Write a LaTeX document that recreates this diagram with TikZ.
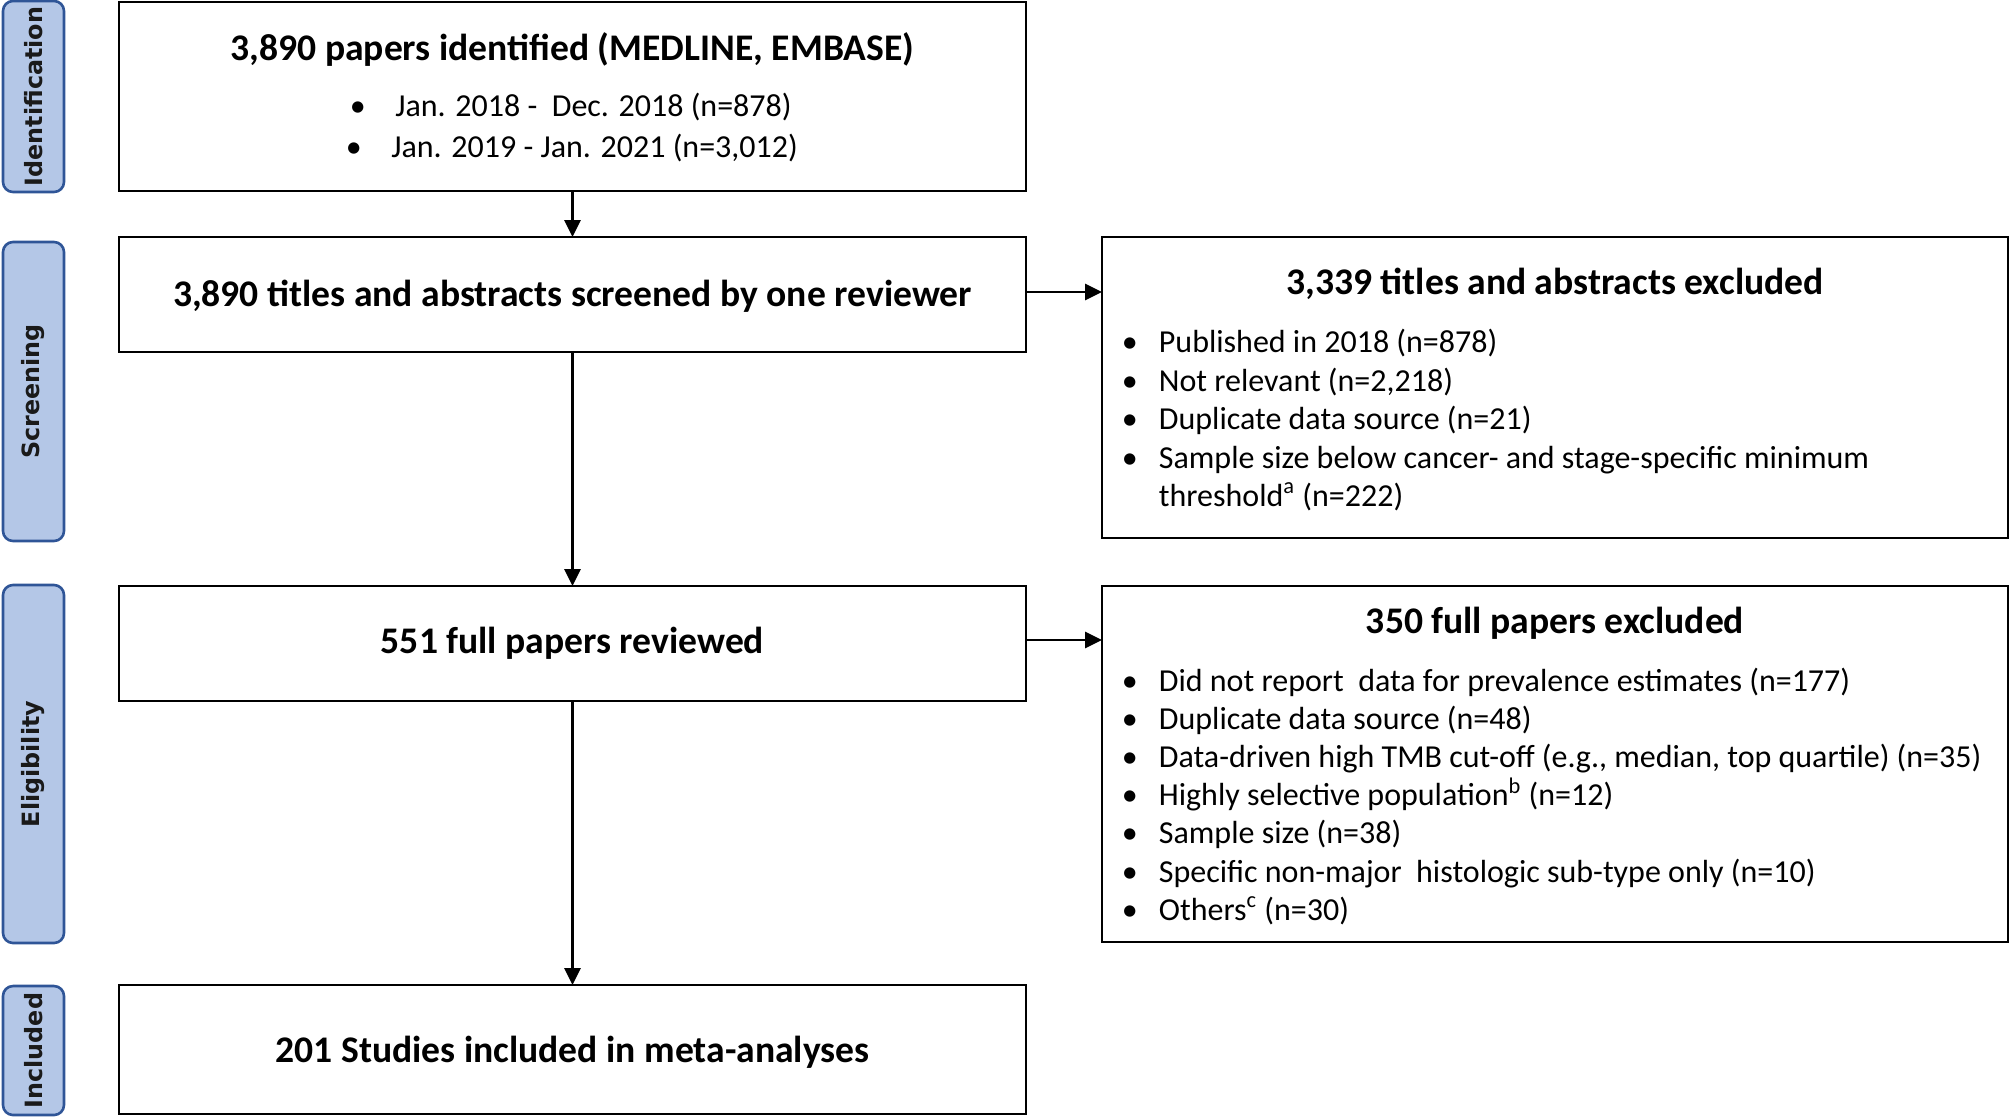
\documentclass[tikz,border=0pt]{standalone}
\usepackage{fontspec}
\setmainfont{Carlito}
\newfontfamily\phasefont{DejaVu Sans}
\usetikzlibrary{arrows.meta}
\definecolor{phasefill}{HTML}{B4C7E7}
\definecolor{phaseborder}{HTML}{2F5597}
\definecolor{phasetext}{HTML}{1A1A1A}
\newcommand{\titlefnt}{\fontsize{18.8}{22}\selectfont\bfseries}
\newcommand{\itemfnt}{\fontsize{16}{20}\selectfont}
\newcommand{\bul}[1]{\makebox[#1][l]{•}}
\begin{document}
\begin{tikzpicture}[x=0.5pt,y=-0.5pt,
  box/.style={draw, line width=1.4pt, inner sep=0pt, outer sep=0pt, fill=white},
  phase/.style={draw=phaseborder, fill=phasefill, line width=1.3pt, rounded corners=5pt,
    inner sep=0pt, outer sep=0pt, rotate=90, text=phasetext,
    font=\phasefont\bfseries\fontsize{11.9}{14}\selectfont},
  arr/.style={line width=1.4pt, -{Triangle[length=8.5pt,width=8pt]}},
  ttl/.style={font=\titlefnt, anchor=base, inner sep=0pt},
  itm/.style={font=\itemfnt, anchor=base west, inner sep=0pt}]
\useasboundingbox (0,0) rectangle (2011,1116);
% phase labels
\node[phase, minimum width=95.5pt, minimum height=30.5pt] (pid) at (33.5,96.5) {Identification};
\node[phase, minimum width=149.5pt, minimum height=30.5pt] (psc) at (33.5,391.5) {Screening};
\node[phase, minimum width=179pt, minimum height=30.5pt] (pel) at (33.5,764) {Eligibility};
\node[phase, minimum width=64.5pt, minimum height=30.5pt] (pin) at (33.5,1050.5) {Included};
% boxes
\node[box, minimum width=453.5pt, minimum height=94.5pt] (b1) at (572.5,96.5) {};
\node[box, minimum width=453.5pt, minimum height=57.5pt] (b2) at (572.5,294.5) {};
\node[box, minimum width=453.5pt, minimum height=57.5pt] (b3) at (572.5,643.5) {};
\node[box, minimum width=453.5pt, minimum height=64.5pt] (b4) at (572.5,1049.5) {};
\node[box, minimum width=453pt, minimum height=150.5pt] (r1) at (1555,387.5) {};
\node[box, minimum width=453pt, minimum height=178pt] (r2) at (1555,764) {};
% connectors
\draw[arr] (b1.south) -- (b2.north);
\draw[arr] (b2.south) -- (b3.north);
\draw[arr] (b3.south) -- (b4.north);
\draw[arr] ([yshift=1.25pt]b2.east) -- ([yshift=1.25pt]b2.east -| r1.west);
\draw[arr] ([yshift=1.75pt]b3.east) -- ([yshift=1.75pt]b3.east -| r2.west);
% box 1 text
\node[ttl] (t1) at (572.5,60.5) {3,890 papers identified (MEDLINE, EMBASE)};
\node[itm] (i11) at (349.5,116) {\bul{22.75pt}Jan. 2018 -\ \ Dec. 2018 (n=878)};
\node[itm] (i12) at (345.5,157) {\bul{22.75pt}Jan. 2019 - Jan. 2021 (n=3,012)};
% left titles
\node[ttl] (t2) at (572.5,306) {3,890 titles and abstracts screened by one reviewer};
\node[ttl] (t3) at (572.5,653) {551 full papers reviewed};
\node[ttl] (t4) at (572.5,1062) {201 Studies included in meta-analyses};
% right box 1
\node[ttl] (rt1) at (1555,294) {3,339 titles and abstracts excluded};
\node[itm] (r11) at (1121.5,352) {\bul{18.5pt}Published in 2018 (n=878)};
\node[itm] (r12) at (1121.5,391) {\bul{18.5pt}Not relevant (n=2,218)};
\node[itm] (r13) at (1121.5,429.5) {\bul{18.5pt}Duplicate data source (n=21)};
\node[itm] (r14) at (1121.5,468) {\bul{18.5pt}Sample size below cancer- and stage-specific minimum};
\node[itm] (r15) at (1121.5,506) {\hspace*{18.5pt}threshold\textsuperscript{a} (n=222)};
% right box 2
\node[ttl] (rt2) at (1555,633) {350 full papers excluded};
\node[itm] (r21) at (1121.5,691) {\bul{18.5pt}Did not report\ \ data for prevalence estimates (n=177)};
\node[itm] (r22) at (1121.5,729.2) {\bul{18.5pt}Duplicate data source (n=48)};
\node[itm] (r23) at (1121.5,767.4) {\bul{18.5pt}Data-driven high TMB cut-off (e.g., median, top quartile) (n=35)};
\node[itm] (r24) at (1121.5,805.6) {\bul{18.5pt}Highly selective population\textsuperscript{b} (n=12)};
\node[itm] (r25) at (1121.5,843.8) {\bul{18.5pt}Sample size (n=38)};
\node[itm] (r26) at (1121.5,882) {\bul{18.5pt}Specific non-major\ \ histologic sub-type only (n=10)};
\node[itm] (r27) at (1121.5,920.2) {\bul{18.5pt}Others\textsuperscript{c} (n=30)};
\end{tikzpicture}
\end{document}
